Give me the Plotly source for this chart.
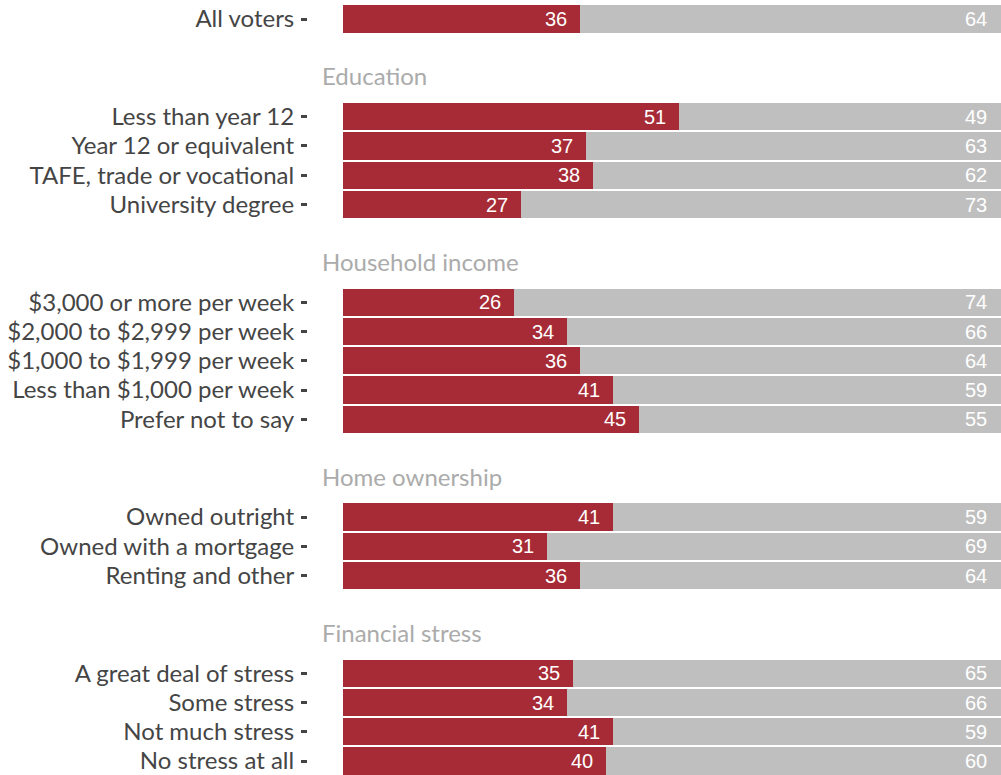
import plotly.graph_objects as go

groups = ["", "Education", "Household income", "Home ownership", "Financial stress"]
categories = [
    ["All voters"],
    ["Less than year 12", "Year 12 or equivalent", "TAFE, trade or vocational", "University degree"],
    ["$3,000 or more per week", "$2,000 to $2,999 per week", "$1,000 to $1,999 per week",
     "Less than $1,000 per week", "Prefer not to say"],
    ["Owned outright", "Owned with a mortgage", "Renting and other"],
    ["A great deal of stress", "Some stress", "Not much stress", "No stress at all"],
]
values_red = [
    [36],
    [51, 37, 38, 27],
    [26, 34, 36, 41, 45],
    [41, 31, 36],
    [35, 34, 41, 40],
]
values_grey = [
    [64],
    [49, 63, 62, 73],
    [74, 66, 64, 59, 55],
    [59, 69, 64],
    [65, 66, 59, 60],
]

RED = "#a62b36"
GREY = "#bfbfbf"
GROUP_GAP = 3.34
HEADER_OFFSET = 1.4
LABEL_FONT = "Lato"

labels, reds, greys, ypos = [], [], [], []
headers = []
pos = 0.0
for gi, (g, cats) in enumerate(zip(groups, categories)):
    if gi > 0:
        pos += GROUP_GAP
        headers.append((g, pos - HEADER_OFFSET))
    for ci, c in enumerate(cats):
        if ci > 0:
            pos += 1
        labels.append(c)
        reds.append(values_red[gi][ci])
        greys.append(values_grey[gi][ci])
        ypos.append(pos)

fig = go.Figure()
fig.add_trace(go.Bar(y=ypos, x=reds, orientation="h", marker=dict(color=RED, line=dict(width=0)),
                     width=0.93, hoverinfo="x+y"))
fig.add_trace(go.Bar(y=ypos, x=greys, orientation="h", marker=dict(color=GREY, line=dict(width=0)),
                     width=0.93, hoverinfo="x+y"))

annotations = []
for y, r, g in zip(ypos, reds, greys):
    annotations.append(dict(x=r, y=y, xref="x", yref="y", text=str(r), showarrow=False,
                            xanchor="right", xshift=-11,
                            font=dict(family="Liberation Sans, Arial", size=20, color="white")))
    annotations.append(dict(x=r + g, y=y, xref="x", yref="y", text=str(g), showarrow=False,
                            xanchor="right", xshift=-12,
                            font=dict(family="Liberation Sans, Arial", size=20, color="white")))
for name, y in headers:
    annotations.append(dict(x=0, y=y, xref="paper", yref="y", text=name, showarrow=False,
                            xanchor="left", xshift=12,
                            font=dict(family=LABEL_FONT, size=24, color="#ababab")))

px_per_unit = 29.26
top_px = 19
total_h = 775
y_top = -top_px / px_per_unit
y_bot = (total_h - top_px) / px_per_unit

fig.update_layout(
    width=1001, height=775,
    margin=dict(l=308, r=0, t=0, b=0),
    barmode="stack", bargap=0,
    showlegend=False,
    plot_bgcolor="white", paper_bgcolor="white",
    annotations=annotations,
    xaxis=dict(range=[-5.3, 100], visible=False, showgrid=False, zeroline=False),
    yaxis=dict(range=[y_bot, y_top], tickvals=ypos, ticktext=labels,
               ticks="outside", ticklen=6, tickwidth=2.5, tickcolor="#444444",
               showgrid=False, zeroline=False, showline=False,
               tickfont=dict(family=LABEL_FONT, size=24, color="#454545"),
               ticklabelstandoff=2),
)

fig.write_html("out.html", config={"displayModeBar": False},
               post_script="document.body.style.margin='0';document.body.style.overflow='hidden';")
